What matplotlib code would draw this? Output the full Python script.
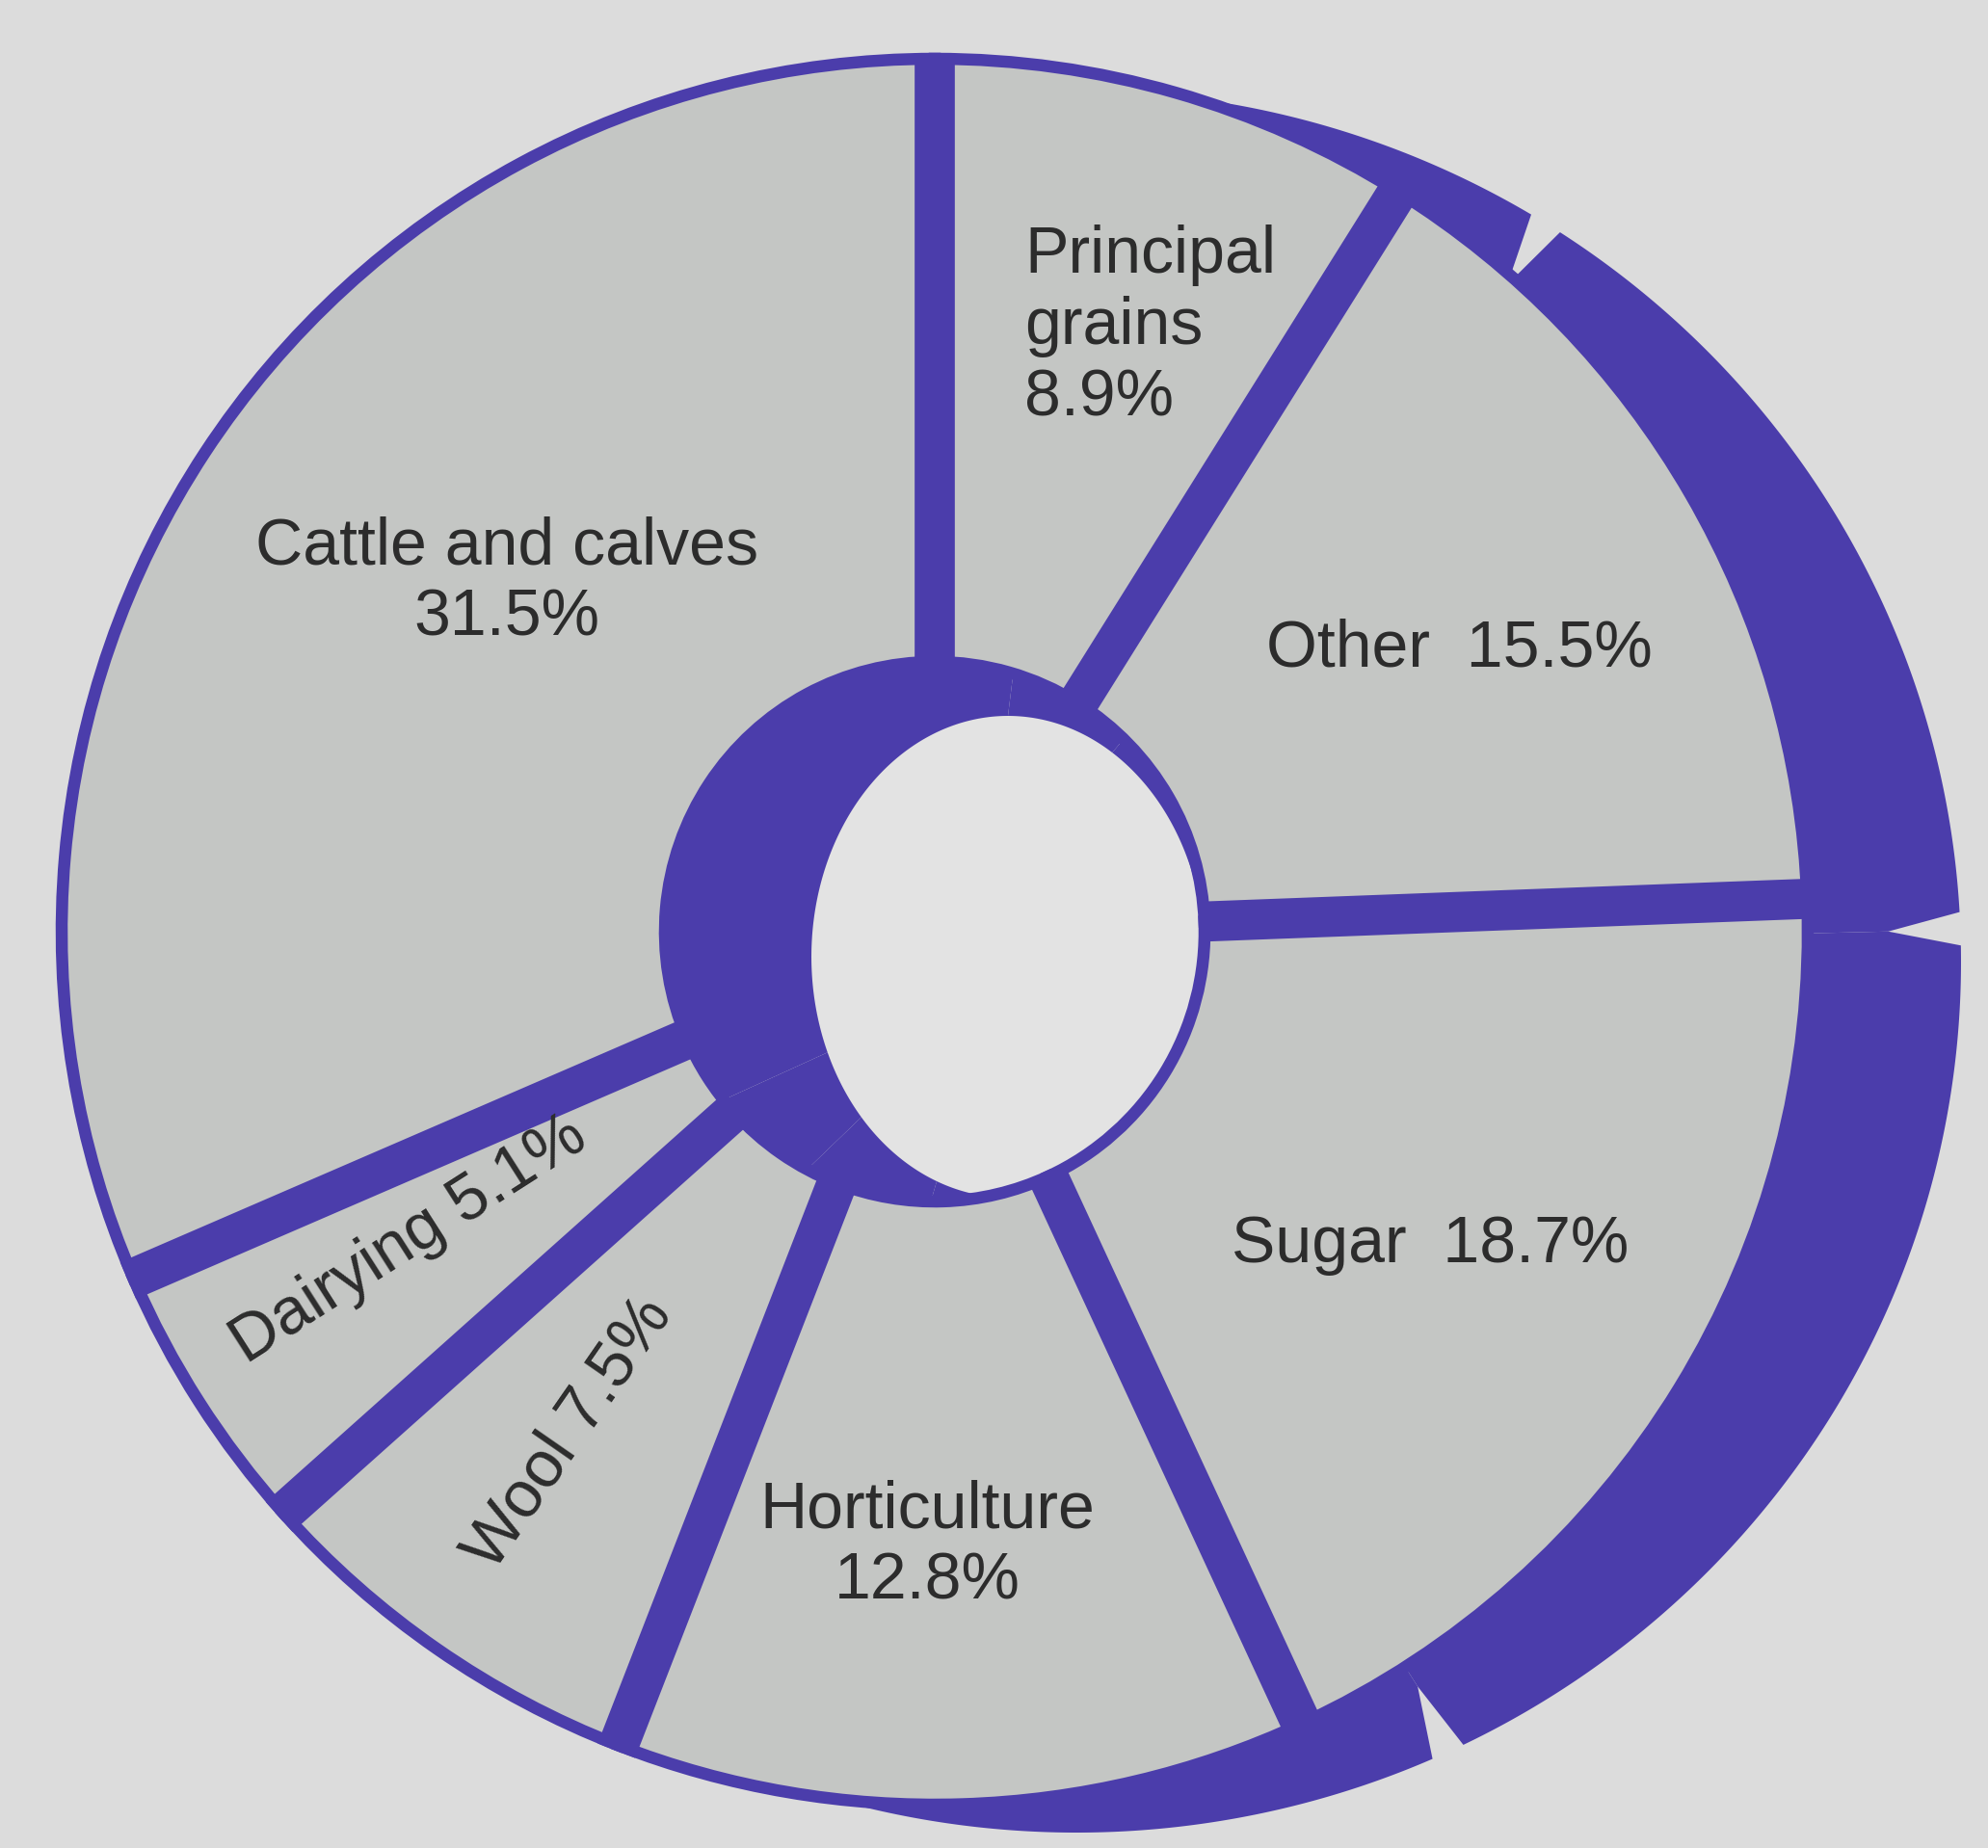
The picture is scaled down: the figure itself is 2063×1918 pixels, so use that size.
import numpy as np
import matplotlib
matplotlib.use("Agg")
import matplotlib.pyplot as plt
from matplotlib.patches import Wedge, Polygon, Ellipse

# ---------------- data ----------------
categories = ["Principal grains", "Other", "Sugar", "Horticulture",
              "Wool", "Dairying", "Cattle and calves"]
shares = [8.9, 15.5, 18.7, 12.8, 7.5, 5.1, 31.5]

# ---------------- layout / style ----------------
W, H = 2063, 1918
BG = "#dcdcdc"
HOLE = "#e3e3e3"
FACE = "#c4c6c4"
BLUE = "#4b3dab"
TXT = "#2c2c2c"


def Y(y):
    return H - y


cx, cy = 970, Y(967)          # face centre
r_out, r_in = 906, 280        # face radii
bcx, bcy, R_bx, R_by = 1117, Y(998), 918, 904   # back (extrusion) outer ellipse
hcx, hcy, ha, hb = 1046, Y(993), 204, 250  # back hole (ellipse)
gap = 2.2                     # notch opening at the back rim (deg)
notch_depth = 75              # notch depth (px)

fig = plt.figure(figsize=(W / 100, H / 100), dpi=100, facecolor=BG)
ax = fig.add_axes([0, 0, 1, 1])
ax.set_xlim(0, W)
ax.set_ylim(0, H)
ax.axis("off")
ax.set_facecolor(BG)

vals = np.array(shares)
bounds = 90 - 360 * np.concatenate([[0], np.cumsum(vals) / vals.sum()])

# light hole
ax.add_patch(Ellipse((hcx, hcy), 2 * ha, 2 * hb, fc=HOLE, ec="none", zorder=1))

# back (blue extrusion) slices with V notches at the rim
for k in range(len(vals)):
    a0, a1 = bounds[k], bounds[k + 1]
    th = np.radians(np.linspace(a0 - gap / 2, a1 + gap / 2, 300))
    outer = np.c_[bcx + R_bx * np.cos(th), bcy + R_by * np.sin(th)]
    fx = (R_bx - notch_depth) / R_bx
    fy = (R_by - notch_depth) / R_by
    p1 = [bcx + fx * R_bx * np.cos(np.radians(a1)), bcy + fy * R_by * np.sin(np.radians(a1))]
    p0 = [bcx + fx * R_bx * np.cos(np.radians(a0)), bcy + fy * R_by * np.sin(np.radians(a0))]
    ti = np.radians(np.linspace(a1, a0, 300))
    inner = np.c_[hcx + ha * np.cos(ti), hcy + hb * np.sin(ti)]
    pts = np.vstack([[p0], outer, [p1], inner])
    ax.add_patch(Polygon(pts, closed=True, fc=BLUE, ec="none", zorder=2))

# front faces
for k in range(len(vals)):
    ax.add_patch(Wedge((cx, cy), r_out, bounds[k + 1], bounds[k],
                       width=r_out - r_in, fc=FACE, ec=BLUE, lw=9,
                       joinstyle="miter", zorder=3))

# radial separators
for b in bounds[:-1]:
    t = np.radians(b)
    ax.plot([cx + (r_in - 4) * np.cos(t), cx + (r_out + 6) * np.cos(t)],
            [cy + (r_in - 4) * np.sin(t), cy + (r_out + 6) * np.sin(t)],
            color=BLUE, lw=30, solid_capstyle="butt", zorder=4)

# labels
font = dict(family="Liberation Sans", fontsize=49, color=TXT, zorder=6)
mid = (bounds[:-1] + bounds[1:]) / 2
lab = {
    "Principal grains": dict(text="Principal\ngrains\n{v}%", xy=(1063, 339), ha="left", rot=0),
    "Other": dict(text="Other  {v}%", xy=(1514, 674), ha="center", rot=0),
    "Sugar": dict(text="Sugar  {v}%", xy=(1484, 1292), ha="center", rot=0),
    "Horticulture": dict(text="Horticulture\n{v}%", xy=(962, 1605), ha="center", rot=0),
    "Wool": dict(text="Wool {v}%", xy=(590, 1488), ha="center", rot=None),
    "Dairying": dict(text="Dairying {v}%", xy=(424, 1287), ha="center", rot=None),
    "Cattle and calves": dict(text="Cattle and calves\n{v}%", xy=(526, 604), ha="center", rot=0),
}
for k, (name, v) in enumerate(zip(categories, shares)):
    L = lab[name]
    rot = L["rot"] if L["rot"] is not None else mid[k] + 180
    ax.text(L["xy"][0], Y(L["xy"][1]), L["text"].format(v=v), ha=L["ha"],
            va="center", rotation=rot, rotation_mode="anchor",
            multialignment="left" if L["ha"] == "left" else "center",
            linespacing=1.2, **font)

fig.savefig("out.png", dpi=100, facecolor=BG)
